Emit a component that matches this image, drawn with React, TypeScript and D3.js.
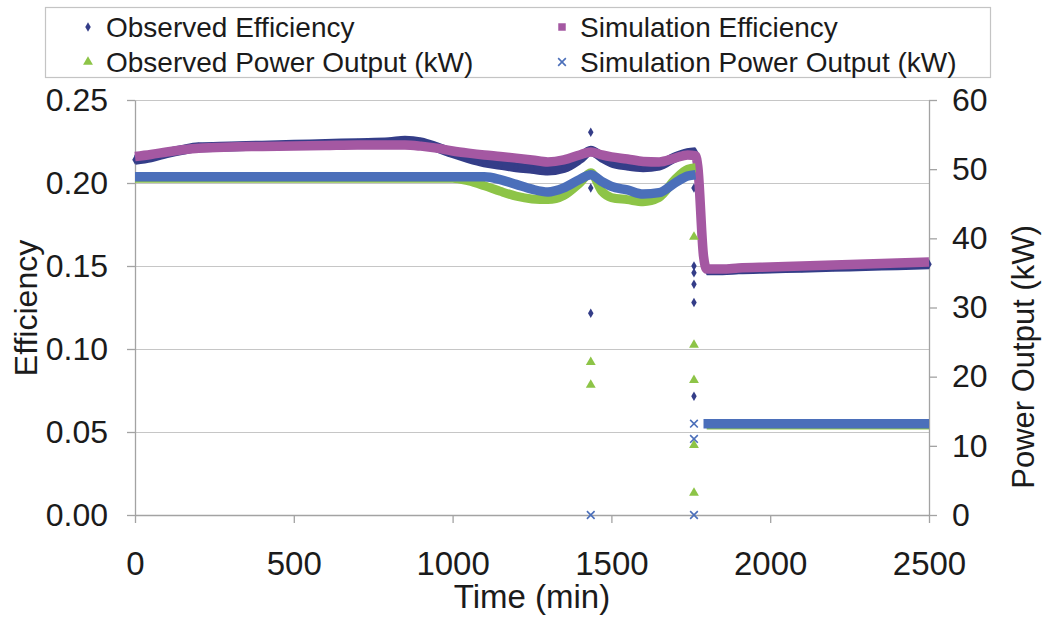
import { useRef, useEffect } from 'react';
import * as d3 from 'd3';

// time axis for the dense bands (min)
const timeMin = [0, 50, 100, 150, 200, 300, 400, 500, 600, 700, 800, 850, 900, 950, 1000, 1050, 1100, 1150, 1200, 1250, 1300, 1350, 1400, 1435, 1470, 1500, 1550, 1600, 1650, 1700, 1740, 1765, 1772, 1790, 1800, 1850, 1900, 2000, 2100, 2200, 2300, 2400, 2500];

const obsEfficiency = [0.214, 0.2155, 0.218, 0.22, 0.2215, 0.222, 0.2225, 0.223, 0.2235, 0.224, 0.2245, 0.2255, 0.2245, 0.2215, 0.218, 0.215, 0.2125, 0.211, 0.2095, 0.2085, 0.2075, 0.209, 0.2145, 0.2195, 0.2155, 0.2125, 0.2105, 0.2095, 0.2105, 0.2155, 0.218, 0.2185, null, null, 0.1475, 0.1475, 0.148, 0.1485, 0.149, 0.1495, 0.15, 0.1505, 0.151];
const simEfficiency = [0.216, 0.2172, 0.2187, 0.22, 0.221, 0.2217, 0.222, 0.2223, 0.2226, 0.2229, 0.2229, 0.2229, 0.2222, 0.221, 0.2193, 0.218, 0.2169, 0.216, 0.215, 0.2139, 0.2127, 0.2139, 0.2169, 0.2187, 0.2169, 0.2157, 0.2145, 0.213, 0.2127, 0.215, 0.2169, 0.2165, 0.21, 0.156, 0.1482, 0.1482, 0.1488, 0.1494, 0.15, 0.1506, 0.1512, 0.1518, 0.1524];
const obsPower = [48.7, 48.7, 48.7, 48.7, 48.7, 48.7, 48.7, 48.7, 48.7, 48.7, 48.7, 48.7, 48.7, 48.7, 48.7, 48.3, 47.6, 46.8, 46.1, 45.7, 45.6, 46.2, 48.0, 49.5, 46.8, 45.9, 45.6, 45.3, 45.9, 48.5, 50.0, 50.2, null, null, 13.0, 13.0, 13.0, 13.0, 13.0, 13.0, 13.0, 13.0, 13.0];
const simPower = [48.9, 48.9, 48.9, 48.9, 48.9, 48.9, 48.9, 48.9, 48.9, 48.9, 48.9, 48.9, 48.9, 48.9, 48.9, 48.9, 48.9, 48.5, 47.8, 47.1, 46.7, 47.3, 48.5, 49.2, 48.2, 47.5, 47.0, 46.4, 46.6, 48.0, 49.0, 49.2, null, 13.2, 13.2, 13.2, 13.2, 13.2, 13.2, 13.2, 13.2, 13.2, 13.2];

// scattered readings around the two trips
const obsEffOutlierTime = [1435, 1435, 1435, 1760, 1760, 1760, 1760, 1760, 1760];
const obsEffOutlier = [0.2305, 0.197, 0.1215, 0.197, 0.15, 0.146, 0.139, 0.128, 0.0715];
const obsPowOutlierTime = [1435, 1435, 1760, 1760, 1760, 1760, 1760];
const obsPowOutlier = [22.1, 18.8, 40.2, 24.6, 19.5, 10.1, 3.2];
const simPowOutlierTime = [1435, 1760, 1760, 1760];
const simPowOutlier = [0, 0, 11.0, 13.2];

const timeTicks = [0, 500, 1000, 1500, 2000, 2500];
const effTicks = [0, 0.05, 0.1, 0.15, 0.2, 0.25];
const powerTicks = [0, 10, 20, 30, 40, 50, 60];

const legendLabels = ['Observed Efficiency', 'Simulation Efficiency', 'Observed Power Output (kW)', 'Simulation Power Output (kW)'];

const NAVY = '#343D88';
const MAGENTA = '#A458A2';
const GREEN = '#8DC447';
const BLUE = '#4B6FBA';
const FONT = '"Liberation Sans", Arial, Helvetica, sans-serif';

type Pt = { t: number; v: number | null };

export default function App() {
  const svgRef = useRef<SVGSVGElement | null>(null);
  const width = 1048;
  const height = 618;
  const plot = { left: 135, right: 929, top: 100, bottom: 515 };

  useEffect(() => {
    if (!svgRef.current) return;
    const svg = d3.select(svgRef.current);
    svg.selectAll('*').remove();

    const x = d3.scaleLinear().domain([0, 2500]).range([plot.left, plot.right]);
    const yEff = d3.scaleLinear().domain([0, 0.25]).range([plot.bottom, plot.top]);
    const yPow = d3.scaleLinear().domain([0, 60]).range([plot.bottom, plot.top]);

    const axisColor = '#A3A3A3';
    const gridColor = '#C6C6C6';

    // Grid lines
    svg.append('g')
      .attr('transform', `translate(${plot.left},0)`)
      .call(d3.axisLeft(yEff).tickValues(effTicks.slice(1)).tickSize(-(plot.right - plot.left)).tickFormat(() => ''))
      .call((g) => { g.selectAll('line').attr('stroke', gridColor); g.select('.domain').remove(); });

    const styleAxis = (g: d3.Selection<SVGGElement, unknown, null, undefined>, size: number) => {
      g.selectAll('.domain, line').attr('stroke', axisColor).attr('stroke-width', 1.3);
      g.selectAll('text').attr('fill', '#1b1b1b').attr('font-size', size).attr('font-family', FONT);
    };

    // X axis
    svg.append('g')
      .attr('transform', `translate(0,${plot.bottom})`)
      .call(d3.axisBottom(x).tickValues(timeTicks).tickSize(8).tickSizeOuter(0).tickPadding(29).tickFormat(d3.format('d')))
      .call((g) => styleAxis(g, 33));

    // Left axis
    svg.append('g')
      .attr('transform', `translate(${plot.left},0)`)
      .call(d3.axisLeft(yEff).tickValues(effTicks).tickSize(8).tickSizeOuter(0).tickPadding(19).tickFormat(d3.format('.2f')))
      .call((g) => styleAxis(g, 32));

    // Right axis
    svg.append('g')
      .attr('transform', `translate(${plot.right},0)`)
      .call(d3.axisRight(yPow).tickValues(powerTicks).tickSize(8).tickSizeOuter(0).tickPadding(15).tickFormat(d3.format('d')))
      .call((g) => styleAxis(g, 32));

    // Axis titles
    svg.append('text')
      .attr('x', (plot.left + plot.right) / 2)
      .attr('y', 608)
      .attr('text-anchor', 'middle')
      .attr('font-family', FONT).attr('font-size', 33).attr('fill', '#1b1b1b')
      .text('Time (min)');
    svg.append('text')
      .attr('transform', `translate(37,308) rotate(-90)`)
      .attr('text-anchor', 'middle')
      .attr('font-family', FONT).attr('font-size', 32).attr('fill', '#1b1b1b')
      .text('Efficiency');
    svg.append('text')
      .attr('transform', `translate(1034,357) rotate(-90)`)
      .attr('text-anchor', 'middle')
      .attr('font-family', FONT).attr('font-size', 31).attr('fill', '#1b1b1b')
      .text('Power Output (kW)');

    const toPts = (vals: (number | null)[]): Pt[] => timeMin.map((t, i) => ({ t, v: vals[i] }));

    const band = (vals: (number | null)[], y: d3.ScaleLinear<number, number>, color: string, w: number) => {
      const line = d3.line<Pt>()
        .defined((d) => d.v !== null)
        .x((d) => x(d.t))
        .y((d) => y(d.v as number))
        .curve(d3.curveMonotoneX);
      svg.append('path')
        .datum(toPts(vals))
        .attr('fill', 'none')
        .attr('stroke', color)
        .attr('stroke-width', w)
        .attr('stroke-linejoin', 'round')
        .attr('d', line);
    };

    const diamond = d3.symbol().type(d3.symbolDiamond).size(26);
    const square = d3.symbol().type(d3.symbolSquare).size(56);
    const triangle = d3.symbol().type(d3.symbolTriangle).size(42);
    const timesType = (d3 as any).symbolTimes || (d3 as any).symbolX || d3.symbolCross;
    const times = d3.symbol().type(timesType).size(40);

    const markers = (ts: number[], vs: number[], y: d3.ScaleLinear<number, number>, sym: any, color: string, stroke = false) => {
      svg.append('g').selectAll('path')
        .data(ts.map((t, i) => ({ t, v: vs[i] })))
        .join('path')
        .attr('transform', (d) => `translate(${x(d.t)},${y(d.v)})`)
        .attr('d', sym())
        .attr('fill', stroke ? 'none' : color)
        .attr('stroke', stroke ? color : 'none')
        .attr('stroke-width', stroke ? 1.6 : 0);
    };

    // Observed efficiency band
    band(obsEfficiency, yEff, NAVY, 10);
    const navyPts = toPts(obsEfficiency).filter((d) => d.v !== null);
    markers(navyPts.map((d) => d.t), navyPts.map((d) => d.v as number), yEff, diamond, NAVY);
    markers(obsEffOutlierTime, obsEffOutlier, yEff, diamond, NAVY);

    // Simulation efficiency
    band(simEfficiency, yEff, MAGENTA, 9.5);

    // Observed power output
    band(obsPower, yPow, GREEN, 9);
    markers(obsPowOutlierTime, obsPowOutlier, yPow, triangle, GREEN);

    // Simulation power output
    band(simPower, yPow, BLUE, 9.5);
    markers(simPowOutlierTime, simPowOutlier, yPow, times, BLUE, true);

    // Legend
    const lg = svg.append('g');
    lg.append('rect')
      .attr('x', 45.5).attr('y', 7.5).attr('width', 945).attr('height', 70)
      .attr('fill', 'white').attr('stroke', '#C4C4C4').attr('stroke-width', 1.2);
    const legendSyms = [diamond, square, triangle, times];
    const legendColors = [NAVY, MAGENTA, GREEN, BLUE];
    legendLabels.forEach((label, i) => {
      const col = i % 2;
      const row = Math.floor(i / 2);
      const mx = col === 0 ? 88 : 562;
      const cy = row === 0 ? 27 : 62;
      const isX = i === 3;
      lg.append('path')
        .attr('transform', `translate(${mx},${cy})`)
        .attr('d', legendSyms[i]())
        .attr('fill', isX ? 'none' : legendColors[i])
        .attr('stroke', isX ? legendColors[i] : 'none')
        .attr('stroke-width', isX ? 1.6 : 0);
      lg.append('text')
        .attr('x', mx + 18)
        .attr('y', cy + 10)
        .attr('font-family', FONT).attr('font-size', 28).attr('fill', '#1b1b1b')
        .text(label);
    });
  }, []);

  return (
    <svg
      ref={svgRef}
      width={width}
      height={height}
      style={{ position: 'absolute', left: 0, top: 0, display: 'block', background: 'white' }}
    />
  );
}
